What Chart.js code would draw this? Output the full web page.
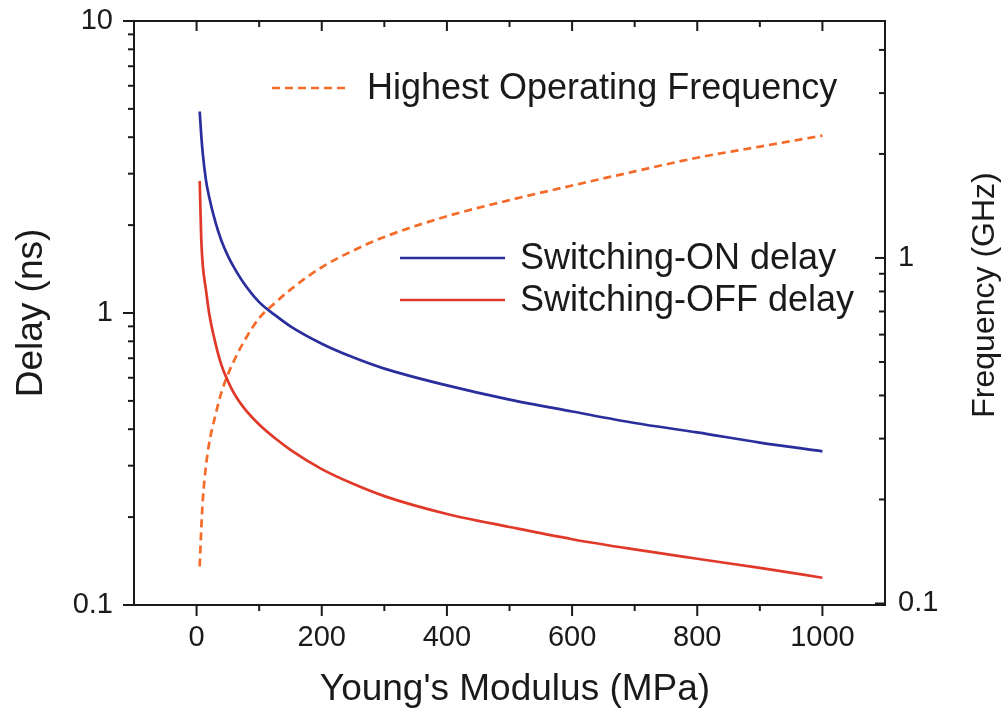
<!DOCTYPE html>
<html>
<head>
<meta charset="utf-8">
<script src="https://cdn.jsdelivr.net/npm/chart.js@4/dist/chart.umd.min.js"></script>
<style>
  html, body { margin: 0; padding: 0; background: #ffffff; }
  #wrap { width: 1008px; height: 715px; position: relative; }
</style>
</head>
<body>
<div id="wrap"><canvas id="c" width="1008" height="715"></canvas></div>
<script>
// ---- data ----
const modulus   = [5, 7.5, 10, 15, 20, 30, 40, 50, 60, 75, 100, 125, 150, 200, 250, 300, 400, 500, 600, 700, 800, 900, 1000];
const onDelay   = [4.9, 4.05, 3.5, 2.85, 2.5, 2.05, 1.76, 1.57, 1.43, 1.27, 1.09, 0.985, 0.9, 0.785, 0.705, 0.645, 0.565, 0.505, 0.46, 0.42, 0.39, 0.36, 0.336];
const offDelay  = [2.83, 1.78, 1.45, 1.2, 1.0, 0.79, 0.66, 0.585, 0.53, 0.475, 0.415, 0.373, 0.34, 0.292, 0.26, 0.236, 0.205, 0.185, 0.168, 0.155, 0.144, 0.134, 0.124];
const frequency = [0.128, 0.165, 0.20, 0.25, 0.29, 0.35, 0.41, 0.46, 0.505, 0.57, 0.67, 0.74, 0.81, 0.94, 1.05, 1.15, 1.32, 1.47, 1.62, 1.78, 1.95, 2.1, 2.26];

const xMajorTicks = [0, 200, 400, 600, 800, 1000];
const xMinorTicks = [100, 300, 500, 700, 900];
const delayMajorTicks = [0.1, 1, 10];
const delayMinorTicks = [0.2, 0.3, 0.4, 0.5, 0.6, 0.7, 0.8, 0.9, 2, 3, 4, 5, 6, 7, 8, 9];
const freqMajorTicks = [0.1, 1];
const freqMinorTicks = [0.2, 0.3, 0.4, 0.5, 0.6, 0.7, 0.8, 0.9, 2, 3, 4];

const seriesNames = ['Switching-ON delay', 'Switching-OFF delay', 'Highest Operating Frequency'];
const axisTitles = { x: "Young's Modulus (MPa)", yLeft: 'Delay (ns)', yRight: 'Frequency (GHz)' };

const FONT = '"Liberation Sans", Arial, Helvetica, sans-serif';
const AXIS_COLOR = '#1a1a1a';
const BLUE = '#2a2e9c';
const RED = '#e0392a';
const ORANGE = '#f46b2a';

function pts(xs, ys) { return xs.map((x, i) => ({ x: x, y: ys[i] })); }

const framePlugin = {
  id: 'frame',
  afterDraw(chart) {
    const ctx = chart.ctx;
    const a = chart.chartArea;
    const sx = chart.scales.x, yl = chart.scales.yLeft, yr = chart.scales.yRight;
    ctx.save();
    ctx.strokeStyle = AXIS_COLOR;
    ctx.lineWidth = 2;
    ctx.strokeRect(a.left, a.top, a.right - a.left, a.bottom - a.top);
    const line = (x1, y1, x2, y2) => { ctx.beginPath(); ctx.moveTo(x1, y1); ctx.lineTo(x2, y2); ctx.stroke(); };
    // x ticks: bottom outward, top inward
    xMajorTicks.forEach(v => { const p = sx.getPixelForValue(v); line(p, a.bottom, p, a.bottom + 11); line(p, a.top, p, a.top + 10); });
    xMinorTicks.forEach(v => { const p = sx.getPixelForValue(v); line(p, a.bottom, p, a.bottom + 6); line(p, a.top, p, a.top + 6); });
    // left y ticks outward
    delayMajorTicks.forEach(v => { const p = yl.getPixelForValue(v); line(a.left - 11, p, a.left, p); });
    delayMinorTicks.forEach(v => { const p = yl.getPixelForValue(v); line(a.left - 6, p, a.left, p); });
    // right y ticks inward
    freqMajorTicks.forEach(v => { const p = yr.getPixelForValue(v); line(a.right - 10, p, a.right, p); });
    freqMinorTicks.forEach(v => { const p = yr.getPixelForValue(v); line(a.right - 6, p, a.right, p); });

    // axis titles
    ctx.fillStyle = '#1a1a1a';
    ctx.textAlign = 'center';
    ctx.textBaseline = 'middle';
    ctx.font = '37px ' + FONT;
    ctx.fillText(axisTitles.x, 515, 690);
    ctx.save();
    ctx.translate(32, 313);
    ctx.rotate(-Math.PI / 2);
    ctx.fillText(axisTitles.yLeft, 0, 0);
    ctx.restore();
    ctx.font = '32px ' + FONT;
    ctx.save();
    ctx.translate(985, 295);
    ctx.rotate(-Math.PI / 2);
    ctx.fillText(axisTitles.yRight, 0, 0);
    ctx.restore();

    // legend entries, styled from datasets
    const ds = chart.data.datasets;
    const entries = [
      { d: ds[2], x1: 272, x2: 350, y: 88, tx: 367 },
      { d: ds[0], x1: 400, x2: 505, y: 258, tx: 520 },
      { d: ds[1], x1: 400, x2: 505, y: 300, tx: 520 }
    ];
    ctx.font = '36px ' + FONT;
    ctx.textAlign = 'left';
    entries.forEach(e => {
      ctx.save();
      ctx.strokeStyle = e.d.borderColor;
      ctx.lineWidth = e.d.borderWidth;
      ctx.setLineDash(e.d.borderDash || []);
      line(e.x1, e.y, e.x2, e.y);
      ctx.restore();
      ctx.fillText(e.d.label, e.tx, e.y + 1);
    });
    ctx.restore();
  }
};

const zeroVPad = s => { s.paddingTop = 0; s.paddingBottom = 0; };

const ctx = document.getElementById('c').getContext('2d');
new Chart(ctx, {
  type: 'line',
  data: {
    datasets: [
      { label: seriesNames[0], data: pts(modulus, onDelay), yAxisID: 'yLeft', borderColor: BLUE, borderWidth: 2.7, pointRadius: 0, cubicInterpolationMode: 'monotone', fill: false },
      { label: seriesNames[1], data: pts(modulus, offDelay), yAxisID: 'yLeft', borderColor: RED, borderWidth: 2.7, pointRadius: 0, cubicInterpolationMode: 'monotone', fill: false },
      { label: seriesNames[2], data: pts(modulus, frequency), yAxisID: 'yRight', borderColor: ORANGE, borderWidth: 2.7, borderDash: [8, 5], pointRadius: 0, cubicInterpolationMode: 'monotone', fill: false }
    ]
  },
  options: {
    responsive: false,
    animation: false,
    devicePixelRatio: 1,
    layout: { padding: { top: 21, left: 0, right: 0, bottom: 0 } },
    plugins: { legend: { display: false }, tooltip: { enabled: false } },
    scales: {
      x: {
        type: 'linear', position: 'bottom', min: -100, max: 1100,
        afterBuildTicks: s => { s.ticks = xMajorTicks.map(v => ({ value: v })); },
        afterFit: s => { s.height = 110; s.paddingLeft = 0; s.paddingRight = 0; },
        grid: { display: false, drawTicks: false },
        border: { display: false },
        ticks: { autoSkip: false, maxRotation: 0, padding: 16, color: '#1a1a1a', font: { family: FONT, size: 29 }, callback: v => String(v) }
      },
      yLeft: {
        type: 'logarithmic', position: 'left', min: 0.1, max: 10,
        afterBuildTicks: s => { s.ticks = delayMajorTicks.map(v => ({ value: v })); },
        afterFit: s => { s.width = 134; zeroVPad(s); },
        grid: { display: false, drawTicks: false },
        border: { display: false },
        ticks: { autoSkip: false, padding: 21, color: '#1a1a1a', font: { family: FONT, size: 29 }, callback: v => String(v) }
      },
      yRight: {
        type: 'logarithmic', position: 'right', min: 0.099, max: 4.85,
        afterBuildTicks: s => { s.ticks = freqMajorTicks.map(v => ({ value: v })); },
        afterFit: s => { s.width = 123; zeroVPad(s); },
        grid: { display: false, drawTicks: false },
        border: { display: false },
        ticks: { autoSkip: false, padding: 13, color: '#1a1a1a', font: { family: FONT, size: 29 }, callback: v => String(v) }
      }
    }
  },
  plugins: [framePlugin]
});
</script>
</body>
</html>
